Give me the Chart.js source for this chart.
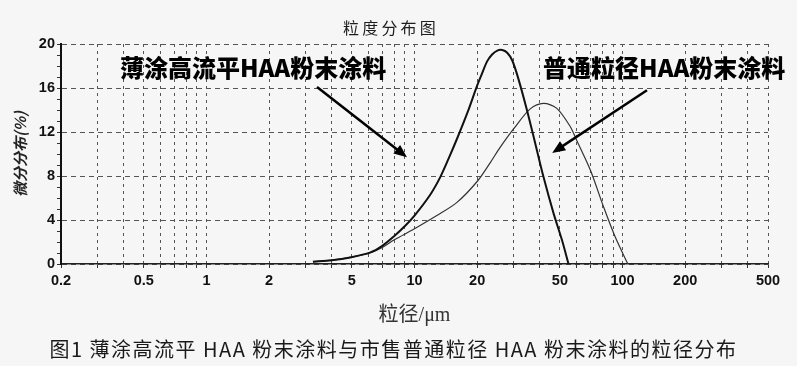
<!DOCTYPE html>
<html>
<head>
<meta charset="utf-8">
<style>
  html, body { margin: 0; padding: 0; background: #f6f6f6; }
  #wrap { position: relative; width: 797px; height: 366px; }
  #title {
    position: absolute; left: 343px; top: 17px; line-height: 20px;
    font-family: "Noto Sans CJK SC", sans-serif; font-size: 16px;
    letter-spacing: 3.2px; color: #1e1e1e;
  }
  #caption {
    position: absolute; left: 0; width: 787px; top: 335px;
    text-align: center; font-family: "Noto Sans CJK SC", sans-serif;
    font-size: 20px; letter-spacing: 1.5px; color: #1a1a1a; line-height: 28px;
  }
</style>
</head>
<body>
<div id="wrap">
  <canvas id="psd" width="797" height="366"></canvas>
  <div id="title">粒度分布图</div>
  <div id="caption">图1 薄涂高流平 HAA 粉末涂料与市售普通粒径 HAA 粉末涂料的粒径分布</div>
</div>

<script src="https://cdn.jsdelivr.net/npm/chart.js"></script>
<script>
    // 薄涂高流平HAA粉末涂料 (bold curve)
    const sizeThin = [3.25, 4, 4.9, 6.1, 7, 8, 9, 10, 11.9, 13.3, 14.6, 16.1, 18, 19.9, 21.1, 22.3, 23.6, 25, 26.4, 27.9, 29.5, 31.5, 34.7, 38, 41.7, 46.6, 51.1, 55];
    const valuesThin = [0.2, 0.35, 0.6, 1.03, 1.65, 2.55, 3.45, 4.4, 6.3, 7.9, 9.6, 11.5, 13.8, 16.1, 17.3, 18.4, 19.05, 19.4, 19.45, 19.2, 18.5, 16.9, 14.0, 11.0, 7.9, 4.6, 2.2, 0];

    // 普通粒径HAA粉末涂料 (thin curve)
    const sizeNormal = [3.25, 4, 4.9, 6.1, 7, 8, 10, 12.8, 16, 20, 23.1, 25.8, 30, 36, 41.7, 48.3, 56, 60, 70, 81, 92, 106];
    const valuesNormal = [0.2, 0.35, 0.6, 1.0, 1.5, 2.2, 3.2, 4.4, 5.6, 7.5, 9.2, 10.6, 12.3, 14.1, 14.6, 14.15, 12.5, 11.3, 8.55, 5.2, 2.5, 0];

    const xTickLabels = [0.2, 0.5, 1, 2, 5, 10, 20, 50, 100, 200, 500];
    const yTickLabels = [0, 4, 8, 12, 16, 20];

    // annotation texts and arrows, in data coordinates
    const notes = [
        { text: '薄涂高流平HAA粉末涂料', at: [0.384, 17.8], from: [3.4, 16.1], to: [9.2, 9.7] },
        { text: '普通粒径HAA粉末涂料', at: [41.5, 17.8], from: [131, 15.8], to: [45.9, 10.1] }
    ];

    const toPoints = (xs, ys) => xs.map((x, i) => ({ x: x, y: ys[i] }));

    // grid values 0.2, 0.3 ... 500
    const xGrid = [];
    for (let e = -1; e <= 2; e++) {
        for (let m = 1; m <= 9; m++) {
            const v = Number((m * Math.pow(10, e)).toPrecision(3));
            if (v >= 0.2 && v <= 500) xGrid.push(v);
        }
    }

    const notePlugin = {
        id: 'notes',
        afterDatasetsDraw(chart) {
            const { ctx, scales: { x, y } } = chart;
            ctx.save();
            ctx.fillStyle = '#000';
            ctx.strokeStyle = '#000';
            ctx.font = '900 24px "Noto Sans CJK SC"';
            ctx.textBaseline = 'middle';
            ctx.textAlign = 'left';
            notes.forEach(n => {
                ctx.fillText(n.text, x.getPixelForValue(n.at[0]), y.getPixelForValue(n.at[1]));
                const x1 = x.getPixelForValue(n.from[0]), y1 = y.getPixelForValue(n.from[1]);
                const x2 = x.getPixelForValue(n.to[0]), y2 = y.getPixelForValue(n.to[1]);
                const ang = Math.atan2(y2 - y1, x2 - x1);
                ctx.lineWidth = 2.5;
                ctx.beginPath();
                ctx.moveTo(x1, y1);
                ctx.lineTo(x2 - 6 * Math.cos(ang), y2 - 6 * Math.sin(ang));
                ctx.stroke();
                ctx.beginPath();
                ctx.moveTo(x2, y2);
                ctx.lineTo(x2 - 13 * Math.cos(ang) + 5.5 * Math.sin(ang), y2 - 13 * Math.sin(ang) - 5.5 * Math.cos(ang));
                ctx.lineTo(x2 - 13 * Math.cos(ang) - 5.5 * Math.sin(ang), y2 - 13 * Math.sin(ang) + 5.5 * Math.cos(ang));
                ctx.closePath();
                ctx.fill();
            });
            ctx.restore();
        }
    };

    const chart = new Chart(document.getElementById('psd'), {
        type: 'line',
        data: {
            datasets: [{
                label: '薄涂高流平HAA粉末涂料',
                data: toPoints(sizeThin, valuesThin),
                borderColor: '#111',
                borderWidth: 2,
                pointRadius: 0,
                tension: 0.3
            }, {
                label: '普通粒径HAA粉末涂料',
                data: toPoints(sizeNormal, valuesNormal),
                borderColor: '#333',
                borderWidth: 1.2,
                pointRadius: 0,
                tension: 0.3
            }]
        },
        options: {
            responsive: false,
            animation: false,
            layout: { padding: { left: 0, right: 29, top: 44, bottom: 30 } },
            plugins: {
                legend: { display: false },
                tooltip: { enabled: false },
                title: { display: false }
            },
            scales: {
                x: {
                    type: 'logarithmic',
                    min: 0.2,
                    max: 500,
                    afterBuildTicks: s => { s.ticks = xGrid.map(v => ({ value: v })); },
                    afterFit: s => { s.height = 72; },
                    ticks: {
                        autoSkip: false,
                        maxRotation: 0,
                        padding: 4,
                        color: '#111',
                        font: { family: '"Liberation Sans"', size: 14.5, weight: 'bold' },
                        callback: v => xTickLabels.includes(v) ? String(v) : ''
                    },
                    grid: {
                        color: '#555',
                        lineWidth: 1,
                        tickColor: '#333',
                        tickLength: 4,
                        tickBorderDash: []
                    },
                    border: { display: true, color: '#222', width: 1.5, dash: [3, 4] },
                    title: {
                        display: true,
                        text: '粒径/μm',
                        color: '#333',
                        font: { family: '"Liberation Serif", "Noto Sans CJK SC"', size: 20 },
                        padding: { top: 0, bottom: 8 }
                    }
                },
                y: {
                    min: 0,
                    max: 20,
                    afterBuildTicks: s => {
                        const t = [];
                        for (let v = 0; v <= 20; v++) t.push({ value: v });
                        s.ticks = t;
                    },
                    afterFit: s => { s.width = 61; },
                    ticks: {
                        autoSkip: false,
                        padding: 2,
                        color: '#111',
                        font: { family: '"Liberation Sans"', size: 14.5, weight: 'bold' },
                        callback: v => yTickLabels.includes(v) ? String(v) : ''
                    },
                    grid: {
                        color: c => (c.tick && c.tick.value % 4 === 0) ? '#555' : 'rgba(0,0,0,0)',
                        lineWidth: 1,
                        tickColor: '#333',
                        tickLength: 4,
                        tickBorderDash: []
                    },
                    border: { display: true, color: '#111', width: 2, dash: [5, 4] },
                    title: {
                        display: true,
                        text: '微分分布(%)',
                        color: '#222',
                        font: { family: '"Noto Sans CJK SC"', size: 15, weight: 'bold', style: 'italic' },
                        padding: { top: 11, bottom: 0 }
                    }
                }
            }
        },
        plugins: [notePlugin]
    });
</script>
</body>
</html>
